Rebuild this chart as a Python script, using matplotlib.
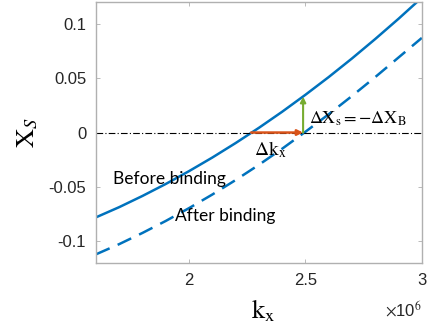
import matplotlib
matplotlib.use('Agg')
import matplotlib.pyplot as plt

plt.rcParams['axes.unicode_minus'] = False
plt.rcParams['mathtext.fontset'] = 'stix'

# k_x in units of 1e6
kx = [1.6, 1.7, 1.8, 1.9, 2.0, 2.1, 2.2, 2.3, 2.4, 2.5, 2.6, 2.7, 2.8, 2.9, 3.0]
xs_before = [-0.078, -0.0686, -0.0583, -0.0473, -0.0355, -0.0230, -0.0097, 0.0043,
             0.0191, 0.0347, 0.0510, 0.0681, 0.0860, 0.1046, 0.1240]
xs_after = [-0.112, -0.1026, -0.0923, -0.0813, -0.0695, -0.0570, -0.0437, -0.0297,
            -0.0149, 0.0007, 0.0168, 0.0336, 0.0510, 0.0690, 0.0870]

dk_start = 2.267
dk_end = 2.49
dxs = 0.033

xticks = [2, 2.5, 3]
xtick_labels = ['2', '2.5', '3']
yticks = [-0.1, -0.05, 0, 0.05, 0.1]
ytick_labels = ['-0.1', '-0.05', '0', '0.05', '0.1']

blue = '#0072BD'
orange = '#D95319'
green = '#77AC30'
edge = '#b0b0b0'
tickcol = '#262626'

fig = plt.figure(figsize=(4.3, 3.33), dpi=100)
ax = fig.add_axes([0.223, 0.21, 0.758, 0.784])

ax.plot(kx, xs_before, color=blue, lw=1.8)
ax.plot(kx, xs_after, color=blue, lw=1.8, ls=(0, (6, 3.5)))
ax.axhline(0, color='black', lw=0.8, ls='-.', dashes=(6, 2, 1, 2))

ax.annotate('', xy=(dk_end, 0), xytext=(dk_start, 0),
            arrowprops=dict(arrowstyle='-|>', color=orange, lw=1.8,
                            mutation_scale=8, shrinkA=0, shrinkB=0))
ax.annotate('', xy=(dk_end, dxs), xytext=(dk_end, 0),
            arrowprops=dict(arrowstyle='-|>', color=green, lw=1.5,
                            mutation_scale=8, shrinkA=0, shrinkB=0))

ax.text(2.515, 0.0125, r'$\Delta \mathrm{X}_\mathrm{s} = -\Delta \mathrm{X}_\mathrm{B}$',
        fontsize=13, va='center', ha='left')
ax.text(2.28, -0.006, r'$\Delta \mathrm{k}_\mathrm{x}$', fontsize=14, va='top', ha='left')
ax.text(1.675, -0.043, 'Before binding', family='Lato', fontsize=12.5,
        va='center', ha='left')
ax.text(1.94, -0.077, 'After binding', family='Lato', fontsize=12.5,
        va='center', ha='left')

ax.set_xlim(1.6, 3.0)
ax.set_ylim(-0.12, 0.12)
ax.set_xticks(xticks)
ax.set_xticklabels(xtick_labels)
ax.set_yticks(yticks)
ax.set_yticklabels(ytick_labels)
ax.tick_params(direction='in', top=True, right=True, length=3, width=0.6,
               color=edge, labelcolor=tickcol, labelsize=12, pad=7)
for lab in ax.get_xticklabels() + ax.get_yticklabels():
    lab.set_family('Liberation Sans')
for s in ax.spines.values():
    s.set_color(edge)
    s.set_linewidth(1.0)

ax.set_ylabel(r'$\mathrm{X}_S$', fontsize=19, labelpad=6)
fig.text(0.612, 0.065, r'$\mathrm{k}_\mathrm{x}$', fontsize=19, ha='center', va='center')
fig.text(0.981, 0.07, r'$\times$10$^6$', fontsize=12, ha='right', va='center',
         color=tickcol, family='Liberation Sans')

fig.savefig('out.png', dpi=100)
